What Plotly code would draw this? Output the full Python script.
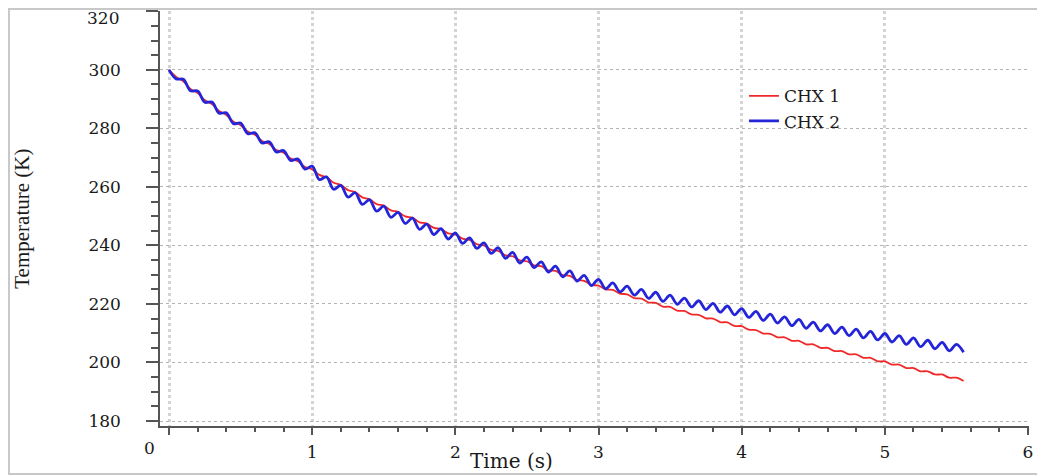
from plotly import graph_objects as go

# sample times (s): peaks and troughs of the oscillation
time_s = [
    0.00, 0.05, 0.10, 0.15, 0.20, 0.25, 0.30, 0.35, 0.40, 0.45,
    0.50, 0.55, 0.60, 0.65, 0.70, 0.75, 0.80, 0.85, 0.90, 0.95,
    1.00, 1.05, 1.10, 1.15, 1.20, 1.25, 1.30, 1.35, 1.40, 1.45,
    1.50, 1.55, 1.60, 1.65, 1.70, 1.75, 1.80, 1.85, 1.90, 1.95,
    2.00, 2.05, 2.10, 2.15, 2.20, 2.25, 2.30, 2.35, 2.40, 2.45,
    2.50, 2.55, 2.60, 2.65, 2.70, 2.75, 2.80, 2.85, 2.90, 2.95,
    3.00, 3.05, 3.10, 3.15, 3.20, 3.25, 3.30, 3.35, 3.40, 3.45,
    3.50, 3.55, 3.60, 3.65, 3.70, 3.75, 3.80, 3.85, 3.90, 3.95,
    4.00, 4.05, 4.10, 4.15, 4.20, 4.25, 4.30, 4.35, 4.40, 4.45,
    4.50, 4.55, 4.60, 4.65, 4.70, 4.75, 4.80, 4.85, 4.90, 4.95,
    5.00, 5.05, 5.10, 5.15, 5.20, 5.25, 5.30, 5.35, 5.40, 5.45,
    5.50, 5.55,
]

chx1_temp = [
    300.0, 297.6, 296.1, 293.5, 292.1, 289.6, 288.3, 285.9, 284.6, 282.3,
    281.1, 278.9, 277.8, 275.7, 274.7, 272.6, 271.7, 269.7, 268.8, 266.8,
    266.0, 264.1, 263.3, 261.4, 260.7, 258.9, 258.2, 256.4, 255.8, 254.1,
    253.6, 252.0, 251.5, 249.9, 249.5, 247.9, 247.5, 246.0, 245.6, 244.1,
    243.8, 242.3, 241.9, 240.4, 240.0, 238.5, 238.1, 236.6, 236.3, 234.9,
    234.6, 233.2, 232.9, 231.5, 231.3, 229.9, 229.6, 228.2, 227.9, 226.5,
    226.3, 225.0, 224.8, 223.5, 223.3, 222.0, 221.8, 220.5, 220.4, 219.1,
    219.0, 217.7, 217.6, 216.4, 216.3, 215.1, 215.0, 213.8, 213.7, 212.5,
    212.4, 211.2, 211.1, 209.9, 209.8, 208.6, 208.6, 207.4, 207.4, 206.2,
    206.2, 205.0, 205.0, 203.9, 203.9, 202.8, 202.8, 201.6, 201.6, 200.4,
    200.4, 199.3, 199.3, 198.1, 198.1, 197.0, 197.0, 195.9, 195.9, 194.8,
    194.8, 193.7,
]

chx2_temp = [
    300.0, 296.9, 296.8, 292.8, 292.8, 288.9, 289.0, 285.2, 285.3, 281.6,
    281.8, 278.2, 278.5, 275.0, 275.4, 271.9, 272.4, 269.0, 269.5, 266.1,
    267.1, 262.5, 263.4, 259.2, 260.5, 256.5, 258.0, 254.0, 255.6, 251.7,
    253.4, 249.6, 251.3, 247.5, 249.3, 245.5, 247.3, 243.7, 245.7, 242.2,
    244.3, 240.7, 242.6, 239.0, 240.9, 237.3, 239.2, 235.6, 237.6, 234.0,
    236.0, 232.4, 234.4, 230.9, 232.9, 229.3, 231.3, 227.8, 229.8, 226.3,
    228.4, 225.2, 227.2, 224.1, 226.1, 223.0, 225.0, 221.9, 224.0, 220.9,
    223.0, 219.9, 222.0, 219.0, 221.1, 218.1, 220.2, 217.2, 219.3, 216.3,
    218.4, 215.4, 217.5, 214.4, 216.5, 213.5, 215.6, 212.6, 214.7, 211.7,
    213.8, 210.8, 212.9, 209.9, 212.1, 209.2, 211.4, 208.4, 210.6, 207.7,
    209.9, 207.0, 209.2, 206.2, 208.4, 205.4, 207.6, 204.7, 206.9, 204.0,
    206.2, 203.5,
]

x_ticks = [0, 1, 2, 3, 4, 5, 6]
y_ticks = [180, 200, 220, 240, 260, 280, 300, 320]

SERIF = "DejaVu Serif"
TEXT = "#1a1a1a"
AXIS = "#555555"

# the page body adds 8px around the figure, so the figure is sized to fit inside
fig = go.Figure()
fig.add_trace(go.Scatter(x=time_s, y=chx1_temp, mode="lines", name="CHX 1",
                         line=dict(color="#f02828", width=1.8, shape="spline",
                                   smoothing=1.0)))
fig.add_trace(go.Scatter(x=time_s, y=chx2_temp, mode="lines", name="CHX 2",
                         line=dict(color="#2424d8", width=2.8, shape="spline",
                                   smoothing=1.0)))

# first x label and last y label sit off their ticks in the original, drawn as annotations
x_text = ["" if v == 0 else str(v) for v in x_ticks]
y_text = ["" if v == 320 else str(v) for v in y_ticks]

fig.update_layout(
    width=1037, height=468,
    margin=dict(l=152, r=16, t=3, b=50, autoexpand=False),
    paper_bgcolor="white", plot_bgcolor="white",
    font=dict(family=SERIF, size=17, color=TEXT),
    showlegend=True,
    legend=dict(x=0.672, y=0.838, xanchor="left", yanchor="top",
                bgcolor="rgba(0,0,0,0)", font=dict(family=SERIF, size=17, color=TEXT),
                tracegroupgap=0),
    xaxis=dict(
        range=[-0.063, 6.007], tickvals=x_ticks, ticktext=x_text, automargin=False,
        showgrid=True, gridcolor="#d4d4d4", gridwidth=2.5, griddash="dot",
        zeroline=False, showline=True, linecolor=AXIS, linewidth=1.5,
        ticks="outside", ticklen=7, tickwidth=1.5, tickcolor=AXIS,
        minor=dict(dtick=0.2, ticks="outside", ticklen=4, tickcolor=AXIS,
                   showgrid=False),
        tickfont=dict(family=SERIF, size=17, color=TEXT),
        ticklabelstandoff=3,
    ),
    yaxis=dict(
        range=[178.3, 320.1], tickvals=y_ticks, ticktext=y_text, automargin=False,
        showgrid=True, gridcolor="#b4b4b4", gridwidth=1, griddash="dot",
        zeroline=False, showline=True, linecolor=AXIS, linewidth=1.5,
        ticks="outside", ticklen=12, tickwidth=1.5, tickcolor=AXIS,
        minor=dict(dtick=5, ticks="outside", ticklen=7, tickcolor=AXIS,
                   showgrid=False),
        tickfont=dict(family=SERIF, size=17, color=TEXT),
        ticklabelstandoff=22,
    ),
    annotations=[
        dict(text="320", xref="paper", yref="y", x=-0.045, y=320, yshift=-7,
             xanchor="right", yanchor="middle", showarrow=False,
             font=dict(family=SERIF, size=17, color=TEXT)),
        dict(text="0", xref="x", yref="paper", x=0, y=-0.053, xshift=-20,
             xanchor="center", yanchor="middle", showarrow=False,
             font=dict(family=SERIF, size=17, color=TEXT)),
        dict(text="Time (s)", xref="paper", yref="paper", x=0.404, y=-0.118,
             xanchor="center", yanchor="bottom", showarrow=False,
             font=dict(family=SERIF, size=20, color=TEXT)),
        dict(text="Temperature (K)", xref="paper", yref="paper", x=-0.159, y=0.499,
             xanchor="center", yanchor="middle", showarrow=False, textangle=-90,
             font=dict(family="Liberation Serif", size=21, color=TEXT)),
    ],
    shapes=[
        dict(type="rect", xref="paper", yref="paper", x0=-0.1738, x1=1.0138,
             y0=-0.1157, y1=1.0048, line=dict(color="#c8c8c8", width=2),
             fillcolor="rgba(0,0,0,0)", layer="below"),
    ],
)

fig.write_html("out.html")
